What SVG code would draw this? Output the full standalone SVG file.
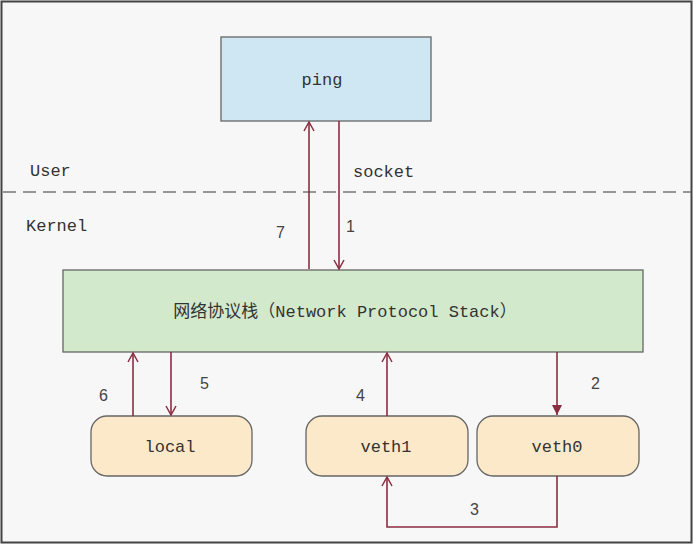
<svg xmlns="http://www.w3.org/2000/svg" width="693" height="544" viewBox="0 0 693 544">
<defs>
<marker id="open" markerWidth="12" markerHeight="12" refX="10" refY="6" orient="auto" markerUnits="userSpaceOnUse">
<path d="M1,1 L10,6 L1,11" fill="none" stroke="#8a2d42" stroke-width="1.5"/>
</marker>
<marker id="filled" markerWidth="12" markerHeight="12" refX="10" refY="6" orient="auto" markerUnits="userSpaceOnUse">
<path d="M0,1 L10,6 L0,11 Z" fill="#8a2d42"/>
</marker>
</defs>
<style>
text{font-family:"Liberation Mono","Noto Sans CJK SC",monospace;font-size:17px;fill:#333}
.lbl{font-family:"Liberation Sans","Noto Sans CJK SC",sans-serif;font-size:16px;fill:#444}
.c{stroke:#8a2d42;stroke-width:1.6;fill:none}
.node{stroke:#666;stroke-width:1.3}
</style>
<rect x="0" y="0" width="693" height="544" fill="#f7f7f7"/>
<rect x="1.5" y="1.5" width="690" height="541" fill="none" stroke="#444" stroke-width="2"/>
<line x1="3" y1="192" x2="691" y2="192" stroke="#777" stroke-width="1.5" stroke-dasharray="13,7"/>
<text x="30" y="176">User</text>
<text x="26" y="231">Kernel</text>
<text x="353" y="177">socket</text>
<g id="ping"><rect class="node" x="221" y="37" width="210" height="84" fill="#cfe7f3"/><text x="322" y="85" text-anchor="middle">ping</text></g>
<g id="stack"><rect class="node" x="63" y="270" width="580" height="82" fill="#d3e9cc"/><text x="345" y="317" text-anchor="middle">网络协议栈（Network Protocol Stack）</text></g>
<g id="local"><rect class="node" x="91" y="416" width="161" height="60" rx="16" fill="#fbe9c9"/><text x="170" y="452" text-anchor="middle">local</text></g>
<g id="veth1"><rect class="node" x="306" y="416" width="162" height="60" rx="16" fill="#fbe9c9"/><text x="386" y="452" text-anchor="middle">veth1</text></g>
<g id="veth0"><rect class="node" x="477" y="416" width="162" height="60" rx="16" fill="#fbe9c9"/><text x="557" y="452" text-anchor="middle">veth0</text></g>
<g id="connectors">
<line class="c" x1="309" y1="269" x2="309" y2="122" marker-end="url(#open)"/>
<line class="c" x1="339" y1="121" x2="339" y2="269" marker-end="url(#open)"/>
<line class="c" x1="133" y1="416" x2="133" y2="353" marker-end="url(#open)"/>
<line class="c" x1="171" y1="352" x2="171" y2="415" marker-end="url(#open)"/>
<line class="c" x1="387" y1="416" x2="387" y2="353" marker-end="url(#open)"/>
<line class="c" x1="557" y1="352" x2="557" y2="415" marker-end="url(#filled)"/>
<polyline class="c" points="557,476 557,527 387,527 387,477" marker-end="url(#open)"/>
</g>
<text class="lbl" x="276" y="238">7</text>
<text class="lbl" x="346" y="232">1</text>
<text class="lbl" x="99" y="401">6</text>
<text class="lbl" x="200" y="389">5</text>
<text class="lbl" x="356" y="401">4</text>
<text class="lbl" x="591" y="389">2</text>
<text class="lbl" x="470" y="515">3</text>
</svg>
